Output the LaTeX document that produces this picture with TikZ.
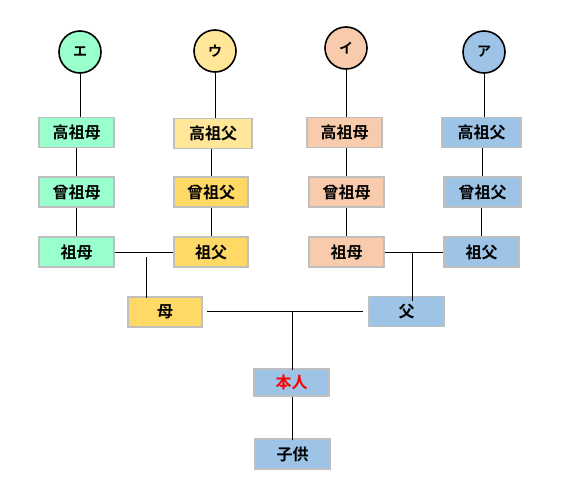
\documentclass[tikz,border=0pt]{standalone}
\usepackage{fontspec}
\usepackage{xcolor}
\usepackage{tikz}
\newfontfamily\cjk{Noto Sans CJK JP}[BoldFont={Noto Sans CJK JP Bold}]
\definecolor{mint}{HTML}{99FFCC}
\definecolor{lightgold}{HTML}{FFE699}
\definecolor{gold}{HTML}{FFD966}
\definecolor{salmon}{HTML}{F8CBAD}
\definecolor{skyblue}{HTML}{9DC3E6}
\definecolor{boxline}{HTML}{BFBFBF}

\begin{document}
\begin{tikzpicture}[x=1pt, y=-1pt,
    person/.style={draw=boxline, line width=1.5pt, minimum width=75pt, minimum height=30pt,
        inner sep=0pt, font=\cjk\bfseries\fontsize{16}{16}\selectfont},
    origin/.style={draw=black, circle, line width=1.6pt, minimum size=42pt, inner sep=0pt,
        font=\cjk\bfseries\fontsize{14}{14}\selectfont},
    link/.style={line width=1pt, black}]
        \useasboundingbox (0,0) rectangle (565,482);

        % Origin circles
        \node[origin, fill=mint] (cE) at (80, 52) {エ};
        \node[origin, fill=lightgold] (cU) at (215, 51) {ウ};
        \node[origin, fill=salmon] (cI) at (346, 48) {イ};
        \node[origin, fill=skyblue] (cA) at (484, 52) {ア};

        % Column E
        \node[person, fill=mint] (kE) at (76.5, 132.5) {高祖母};
        \node[person, fill=mint] (hE) at (76.5, 192) {曾祖母};
        \node[person, fill=mint] (sE) at (76.5, 252) {祖母};

        % Column U
        \node[person, fill=lightgold, minimum width=78pt] (kU) at (213, 133.5) {高祖父};
        \node[person, fill=gold, minimum width=74pt] (hU) at (211, 192) {曾祖父};
        \node[person, fill=gold, minimum width=74pt] (sU) at (211, 252) {祖父};

        % Column I
        \node[person, fill=salmon] (kI) at (344.5, 132.5) {高祖母};
        \node[person, fill=salmon] (hI) at (346.5, 192) {曾祖母};
        \node[person, fill=salmon] (sI) at (346.5, 252) {祖母};

        % Column A
        \node[person, fill=skyblue, minimum width=79pt] (kA) at (481.5, 132.5) {高祖父};
        \node[person, fill=skyblue, minimum width=77pt] (hA) at (482.5, 192) {曾祖父};
        \node[person, fill=skyblue] (sA) at (481.5, 252) {祖父};

        % Parents, self, child
        \node[person, fill=gold, minimum width=74pt] (haha) at (165, 312) {母};
        \node[person, fill=skyblue] (chichi) at (406.5, 311.5) {父};
        \node[person, fill=skyblue, minimum height=27pt, text=red] (self) at (291.5, 382.5) {本人};
        \node[person, fill=skyblue] (child) at (292.5, 454) {子供};

        % Junctions
        \coordinate (jL) at (146, 257);
        \coordinate (jR) at (412, 252);
        \coordinate (mL) at (207, 311);
        \coordinate (mR) at (363, 311);
        \coordinate (jM) at (292, 311);

        % Lines down each column
        \draw[link] (cE) -- (cE |- kE.north);
        \draw[link] (kE) -- (hE);
        \draw[link] (hE) -- (sE);
        \draw[link] (cU) -- (cU |- kU.north);
        \draw[link] (kU.south -| hU) -- (hU);
        \draw[link] (hU) -- (sU);
        \draw[link] (cI) -- (cI |- kI.north);
        \draw[link] (kI.south -| hI) -- (hI);
        \draw[link] (hI) -- (sI);
        \draw[link] (cA) -- (cA |- kA.north);
        \draw[link] (kA.south -| hA) -- (hA);
        \draw[link] (hA.south -| sA) -- (sA);

        % Marriages
        \draw[link] (sE) -- (sU);
        \draw[link] (jL) -- ([yshift=-2pt]jL |- haha.north);
        \draw[link] (sI) -- (sA);
        \draw[link] (jR) -- ([yshift=-5pt]jR |- chichi.north);
        \draw[link] (mL) -- (mR);
        \draw[link] (jM) -- ([yshift=-2pt]jM |- self.north);
        \draw[link] (self.south -| jM) -- ([yshift=-2pt]jM |- child.north);
    \end{tikzpicture}
\end{document}
